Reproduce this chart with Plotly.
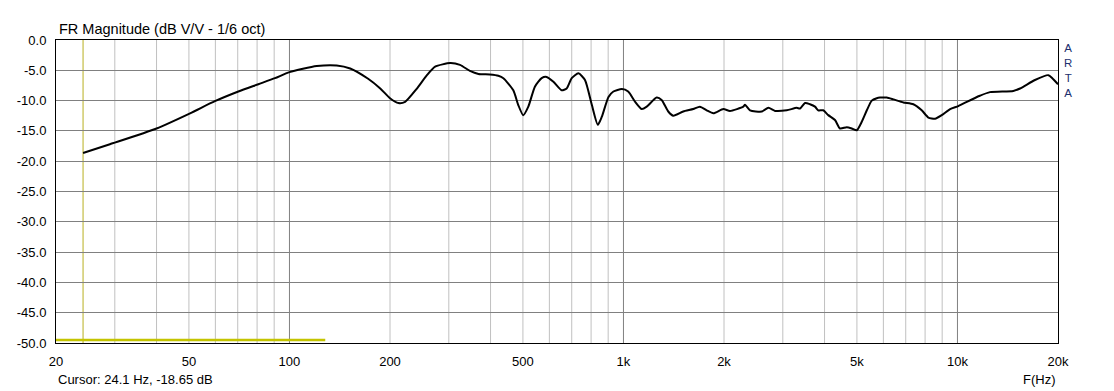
import math
import plotly.graph_objects as go

# ---- data ----
freq_hz = [24.1, 29.0, 40.0, 50.4, 59.8, 70.3, 80.7, 90.5, 100, 120.7, 138.5, 152, 172, 187,
           200, 212, 222, 240, 258, 273, 303, 324, 347, 368, 398, 422, 437, 468, 484, 501,
           519, 543, 569, 589, 617, 653, 676, 700, 733, 767, 804, 838, 861, 902, 933, 989,
           1033, 1084, 1135, 1174, 1257, 1301, 1362, 1410, 1510, 1618, 1694, 1775, 1859,
           1991, 2084, 2285, 2312, 2393, 2594, 2716, 2844, 3082, 3302, 3378, 3496, 3618,
           3745, 3830, 3965, 4104, 4298, 4450, 4661, 4825, 4994, 5170, 5353, 5539, 5733,
           5862, 6142, 6428, 6886, 7378, 7816, 8184, 8570, 8974, 9506, 10057, 10666, 11672,
           12507, 14696, 15398, 17064, 18710, 19230, 20000]
mag_db = [-18.65, -17.2, -14.6, -12.1, -10.1, -8.5, -7.3, -6.3, -5.3, -4.3, -4.2, -4.7, -6.4, -8.0,
          -9.6, -10.4, -10.2, -8.1, -5.8, -4.4, -3.8, -4.1, -5.1, -5.6, -5.7, -5.9, -6.3, -8.3,
          -10.7, -12.4, -11.0, -7.7, -6.3, -6.1, -6.9, -8.3, -8.0, -6.3, -5.5, -6.6, -10.7,
          -14.0, -12.7, -9.4, -8.5, -8.1, -8.5, -10.2, -11.4, -11.0, -9.5, -9.9, -11.8, -12.5,
          -11.8, -11.4, -11.0, -11.6, -12.1, -11.4, -11.7, -11.0, -10.7, -11.6, -11.8, -11.2,
          -11.7, -11.6, -11.2, -11.3, -10.4, -10.6, -11.0, -11.6, -11.6, -12.4, -13.2, -14.6,
          -14.4, -14.6, -14.9, -13.5, -11.6, -10.0, -9.6, -9.5, -9.5, -9.8, -10.3, -10.6,
          -11.6, -12.8, -13.0, -12.4, -11.4, -10.9, -10.2, -9.2, -8.6, -8.4, -8.0, -6.6, -5.8,
          -6.3, -7.3]

noise_freq = [20, 128]
noise_db = [-49.5, -49.5]

cursor_freq = 24.1
cursor_db = -18.65

x_tick_vals = [20, 50, 100, 200, 500, 1000, 2000, 5000, 10000, 20000]
x_tick_text = ["20", "50", "100", "200", "500", "1k", "2k", "5k", "10k", "20k"]
y_tick_vals = [0, -5, -10, -15, -20, -25, -30, -35, -40, -45, -50]
y_tick_text = ["0.0", "-5.0", "-10.0", "-15.0", "-20.0", "-25.0", "-30.0", "-35.0", "-40.0", "-45.0", "-50.0"]
minor_grid = [30, 40, 50, 60, 70, 80, 90, 200, 300, 400, 500, 600, 700, 800, 900,
              2000, 3000, 4000, 5000, 6000, 7000, 8000, 9000]
major_grid = [100, 1000, 10000]

FONT = "Liberation Sans, Arial, sans-serif"

fig = go.Figure()

fig.add_trace(go.Scatter(x=noise_freq, y=noise_db, mode="lines",
                         line=dict(color="#c4c400", width=2.5), hoverinfo="skip"))
fig.add_trace(go.Scatter(x=freq_hz, y=mag_db, mode="lines",
                         line=dict(color="black", width=2, shape="spline", smoothing=0.6)))

shapes = []
for f in minor_grid:
    shapes.append(dict(type="line", xref="x", yref="paper", x0=f, x1=f, y0=0, y1=1,
                       line=dict(color="#c0c0c0", width=1), layer="below"))
for f in major_grid:
    shapes.append(dict(type="line", xref="x", yref="paper", x0=f, x1=f, y0=0, y1=1,
                       line=dict(color="#808080", width=1), layer="below"))
shapes.append(dict(type="line", xref="x", yref="paper", x0=cursor_freq, x1=cursor_freq, y0=0, y1=1,
                   line=dict(color="#b8b020", width=1), layer="below"))

annotations = [
    dict(text="FR Magnitude (dB V/V - 1/6 oct)", xref="paper", yref="paper",
         x=0.001, y=1.036, xanchor="left", yanchor="middle", showarrow=False,
         font=dict(family=FONT, size=14.5, color="black")),
    dict(text="Cursor: %.1f Hz, %.2f dB" % (cursor_freq, cursor_db), xref="paper", yref="paper",
         x=0.0, y=-0.122, xanchor="left", yanchor="middle", showarrow=False,
         font=dict(family=FONT, size=13, color="black")),
    dict(text="F(Hz)", xref="paper", yref="paper",
         x=1.0, y=-0.120, xanchor="right", yanchor="middle", showarrow=False,
         font=dict(family=FONT, size=13, color="black")),
    dict(text="A<br>R<br>T<br>A", xref="paper", yref="paper",
         x=1.0099, y=(343 - 70) / 303.0, xanchor="center", yanchor="middle",
         align="center", showarrow=False,
         font=dict(family=FONT, size=11.5, color="#1c2f6e")),
]

fig.update_layout(
    width=1114, height=391,
    margin=dict(l=56, r=56, t=40, b=48),
    paper_bgcolor="white", plot_bgcolor="white",
    showlegend=False,
    shapes=shapes,
    annotations=annotations,
    font=dict(family=FONT, size=13, color="black"),
    xaxis=dict(type="log", range=[math.log10(20), math.log10(20000)],
               tickvals=x_tick_vals, ticktext=x_tick_text,
               showgrid=False, zeroline=False,
               showline=True, linecolor="black", linewidth=1, mirror=True,
               ticks="outside", ticklen=6, tickcolor="rgba(0,0,0,0)",
               tickfont=dict(family=FONT, size=13, color="black")),
    yaxis=dict(range=[-50, 0], tickvals=y_tick_vals, ticktext=y_tick_text,
               showgrid=True, gridcolor="#808080", gridwidth=1, zeroline=False,
               showline=True, linecolor="black", linewidth=1, mirror=True,
               ticks="outside", ticklen=6, tickcolor="rgba(0,0,0,0)",
               tickfont=dict(family=FONT, size=13, color="black")),
)

fig.write_html("out.html")
